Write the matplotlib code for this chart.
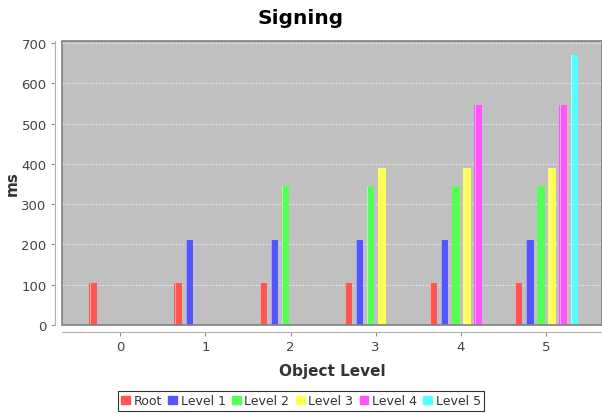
import matplotlib.pyplot as plt
import numpy as np
from matplotlib.patches import Patch, Rectangle

# data
categories = ["0", "1", "2", "3", "4", "5"]
series = ["Root", "Level 1", "Level 2", "Level 3", "Level 4", "Level 5"]
root = [104, 104, 104, 104, 104, 104]
level1 = [None, 210, 210, 210, 210, 210]
level2 = [None, None, 346, 346, 346, 346]
level3 = [None, None, None, 390, 390, 390]
level4 = [None, None, None, None, 546, 546]
level5 = [None, None, None, None, None, 670]
colors = ["#ff5555", "#5555ff", "#55ff55", "#ffff55", "#ff55ff", "#55ffff"]

values = [root, level1, level2, level3, level4, level5]

fig = plt.figure(figsize=(6.02, 4.14), dpi=100)
ax = fig.add_axes([62/602, 88/414, 540/602, 284/414])
ax.set_facecolor("#c0c0c0")

x = np.arange(len(categories))
step = 0.131
width = 0.088
for i, (name, vals, col) in enumerate(zip(series, values, colors)):
    xs = [xi for xi, v in zip(x, vals) if v is not None]
    ys = [v for v in vals if v is not None]
    pos = np.array(xs) + (i - 2.5) * step + 0.008
    ax.bar(pos, ys, width=width, color=col, zorder=3)
    # light highlight strip on the left of each bar
    ax.bar(pos - width/2 + 0.01, ys, width=0.01, color="white", alpha=0.45, zorder=4)

ax.set_xlim(-0.685, 5.66)
ax.set_ylim(0, 705)
ax.set_yticks(range(0, 701, 100))
ax.set_xticks(x)
ax.set_xticklabels(categories)

ax.yaxis.grid(True, color="white", alpha=0.8, linestyle=(0, (2, 2)), linewidth=0.6, zorder=1)
ax.set_axisbelow(True)

for s in ["top", "right"]:
    ax.spines[s].set_visible(False)
for s in ["left", "bottom"]:
    ax.spines[s].set_position(("outward", 5))
    ax.spines[s].set_color("#b0b0b0")
ax.add_patch(Rectangle((0, 0), 1, 1, transform=ax.transAxes, fill=False,
                       edgecolor="#808080", linewidth=1.2, clip_on=False, zorder=5))

ax.tick_params(axis="both", colors="#909090", length=3, labelsize=9.5,
               labelcolor="#444444", pad=3)

ax.set_ylabel("ms", fontsize=11, fontweight="bold", color="#333333")
ax.yaxis.set_label_coords(-0.078, 0.5)
ax.set_xlabel("Object Level", fontsize=11, fontweight="bold", color="#333333")
ax.xaxis.set_label_coords(0.5, -0.133)
fig.suptitle("Signing", fontsize=14.5, fontweight="bold", y=0.978)

handles = [Patch(facecolor=c, edgecolor=c) for c in colors]
leg = fig.legend(handles, series, loc="center", bbox_to_anchor=(0.5, 0.029), ncol=6,
                 fontsize=9, frameon=True, fancybox=False, handlelength=0.7,
                 handleheight=0.7, handletextpad=0.3, columnspacing=0.5,
                 borderpad=0.25, labelcolor="#333333")
leg.get_frame().set_edgecolor("black")
leg.get_frame().set_linewidth(0.8)

fig.savefig("out.png", dpi=100)
